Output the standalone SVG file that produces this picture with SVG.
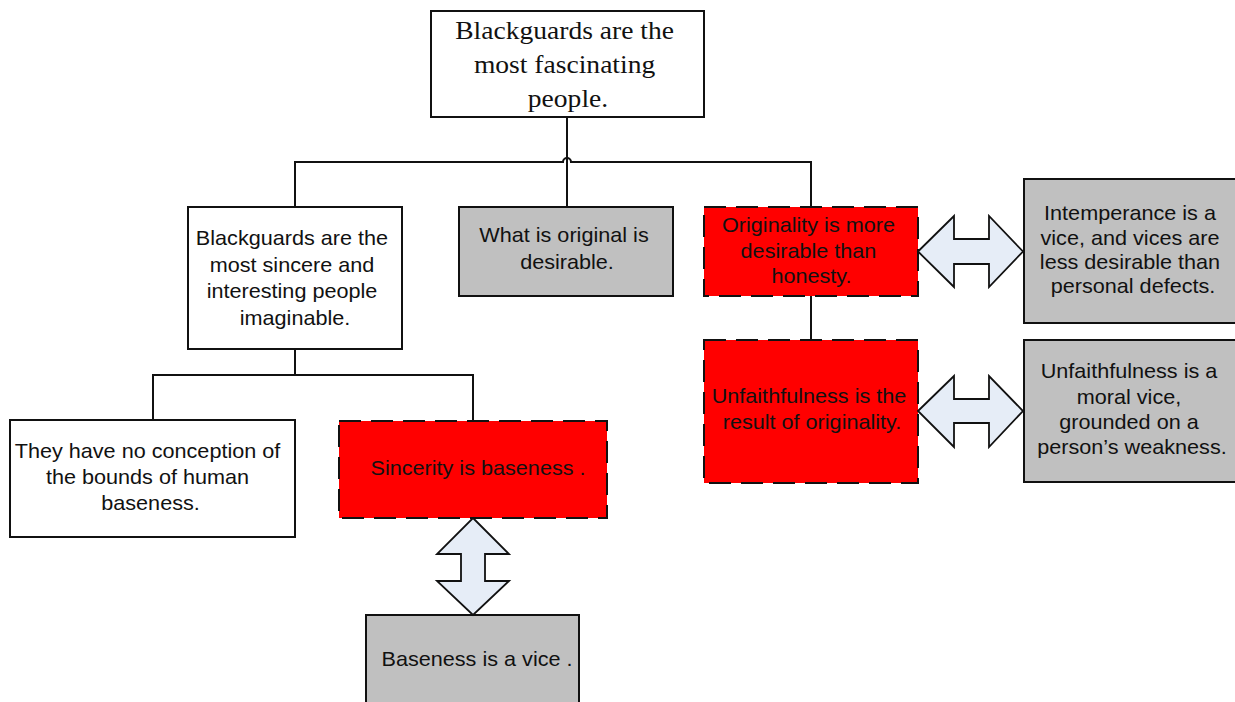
<svg xmlns="http://www.w3.org/2000/svg" width="1235" height="702" viewBox="0 0 1235 702">
<style>
  .box { stroke: #111; stroke-width: 2; }
  .white { fill: #ffffff; }
  .gray { fill: #c0c0c0; }
  .red { fill: #ff0000; stroke: none; }
  .dash { fill: none; stroke: #111; stroke-width: 2; stroke-dasharray: 22 10; }
  .conn { fill: none; stroke: #111; stroke-width: 2; }
  .arrow { fill: #e6edf7; stroke: #111; stroke-width: 1.8; stroke-linejoin: miter; }
  .sans { font-family: "Liberation Sans", Arial, sans-serif; font-size: 20.5px; fill: #111; text-anchor: middle; }
  .serif { font-family: "Liberation Serif", "Times New Roman", serif; font-size: 26px; fill: #111; text-anchor: middle; }
</style>
<rect width="1235" height="702" fill="#ffffff"/>

<g id="connectors">
  <path class="conn" d="M295,207 V162 H563 A4,4 0 0 1 571,162 H811 V207"/>
  <path class="conn" d="M567,117 V207"/>
  <path class="conn" d="M811,296 V340"/>
  <path class="conn" d="M295,349 V375 M153,420 V375 H473 V421"/>
</g>

<g id="n-top">
  <rect class="box white" x="431" y="11" width="273" height="106"/>
  <text class="serif" transform="translate(568 0) scale(1.06 1)">
    <tspan x="0" y="39">Blackguards are the</tspan>
    <tspan x="0" y="73">most fascinating</tspan>
    <tspan x="0" y="107">people.</tspan>
  </text>
</g>

<g id="n-sincere">
  <rect class="box white" x="188" y="207" width="214" height="142"/>
  <text class="sans" transform="translate(295 0) scale(1.055 1)">
    <tspan x="0" y="245.5">Blackguards are the</tspan>
    <tspan x="0" y="272">most sincere and</tspan>
    <tspan x="0" y="298.5">interesting people</tspan>
    <tspan x="0" y="325">imaginable.</tspan>
  </text>
</g>

<g id="n-original">
  <rect class="box gray" x="459" y="207" width="214" height="89"/>
  <text class="sans" transform="translate(567 0) scale(1.055 1)">
    <tspan x="0" y="242.5">What is original is</tspan>
    <tspan x="0" y="269.5">desirable.</tspan>
  </text>
</g>

<g id="n-originality">
  <rect class="red" x="704" y="207" width="214" height="89"/>
  <rect class="dash" x="704" y="207" width="214" height="89"/>
  <text class="sans" transform="translate(811.5 0) scale(1.055 1)">
    <tspan x="0" y="232.5">Originality is more</tspan>
    <tspan x="0" y="258.5">desirable than</tspan>
    <tspan x="0" y="283.5">honesty.</tspan>
  </text>
</g>

<g id="n-unfaith">
  <rect class="red" x="704" y="340" width="214" height="143"/>
  <rect class="dash" x="704" y="340" width="214" height="143"/>
  <text class="sans" transform="translate(812 0) scale(1.055 1)">
    <tspan x="0" y="403.5">Unfaithfulness is the</tspan>
    <tspan x="0" y="429.5">result of originality.</tspan>
  </text>
</g>

<g id="n-intemperance">
  <rect class="box gray" x="1024" y="179" width="218" height="144"/>
  <text class="sans" transform="translate(1133 0) scale(1.055 1)">
    <tspan x="0" y="220.5">Intemperance is a</tspan>
    <tspan x="0" y="245">vice, and vices are</tspan>
    <tspan x="0" y="269.5">less desirable than</tspan>
    <tspan x="0" y="293.5">personal defects.</tspan>
  </text>
</g>

<g id="n-moralvice">
  <rect class="box gray" x="1024" y="340" width="218" height="142"/>
  <text class="sans" transform="translate(1132 0) scale(1.055 1)">
    <tspan x="0" y="378.5">Unfaithfulness is a</tspan>
    <tspan x="0" y="404">moral vice,</tspan>
    <tspan x="0" y="429.5">grounded on a</tspan>
    <tspan x="0" y="454.5">person’s weakness.</tspan>
  </text>
</g>

<g id="n-noconception">
  <rect class="box white" x="10" y="420" width="285" height="117"/>
  <text class="sans" transform="translate(150.5 0) scale(1.055 1)">
    <tspan x="0" y="458.5">They have no conception of</tspan>
    <tspan x="0" y="484.5">the bounds of human</tspan>
    <tspan x="0" y="510.5">baseness.</tspan>
  </text>
</g>

<g id="n-sincerity">
  <rect class="red" x="339" y="421" width="268" height="97"/>
  <rect class="dash" x="339" y="421" width="268" height="97"/>
  <text class="sans" transform="translate(478 0) scale(1.055 1)">
    <tspan x="0" y="475.5">Sincerity is baseness .</tspan>
  </text>
</g>

<g id="n-baseness">
  <rect class="box gray" x="366" y="615" width="213" height="100"/>
  <text class="sans" transform="translate(477 0) scale(1.055 1)">
    <tspan x="0" y="666.5">Baseness is a vice .</tspan>
  </text>
</g>

<g id="arrows">
  <path class="arrow" d="M473,518 L509,554 H485 V581 H509 L473,615 L437,581 H461 V554 H437 Z"/>
  <path class="arrow" d="M918,251.5 L954,216 V239 H989 V216 L1023,251.5 L989,287 V264 H954 V287 Z"/>
  <path class="arrow" d="M918,411 L954,376 V399 H989 V376 L1023,411 L989,447 V423 H954 V447 Z"/>
</g>
</svg>
